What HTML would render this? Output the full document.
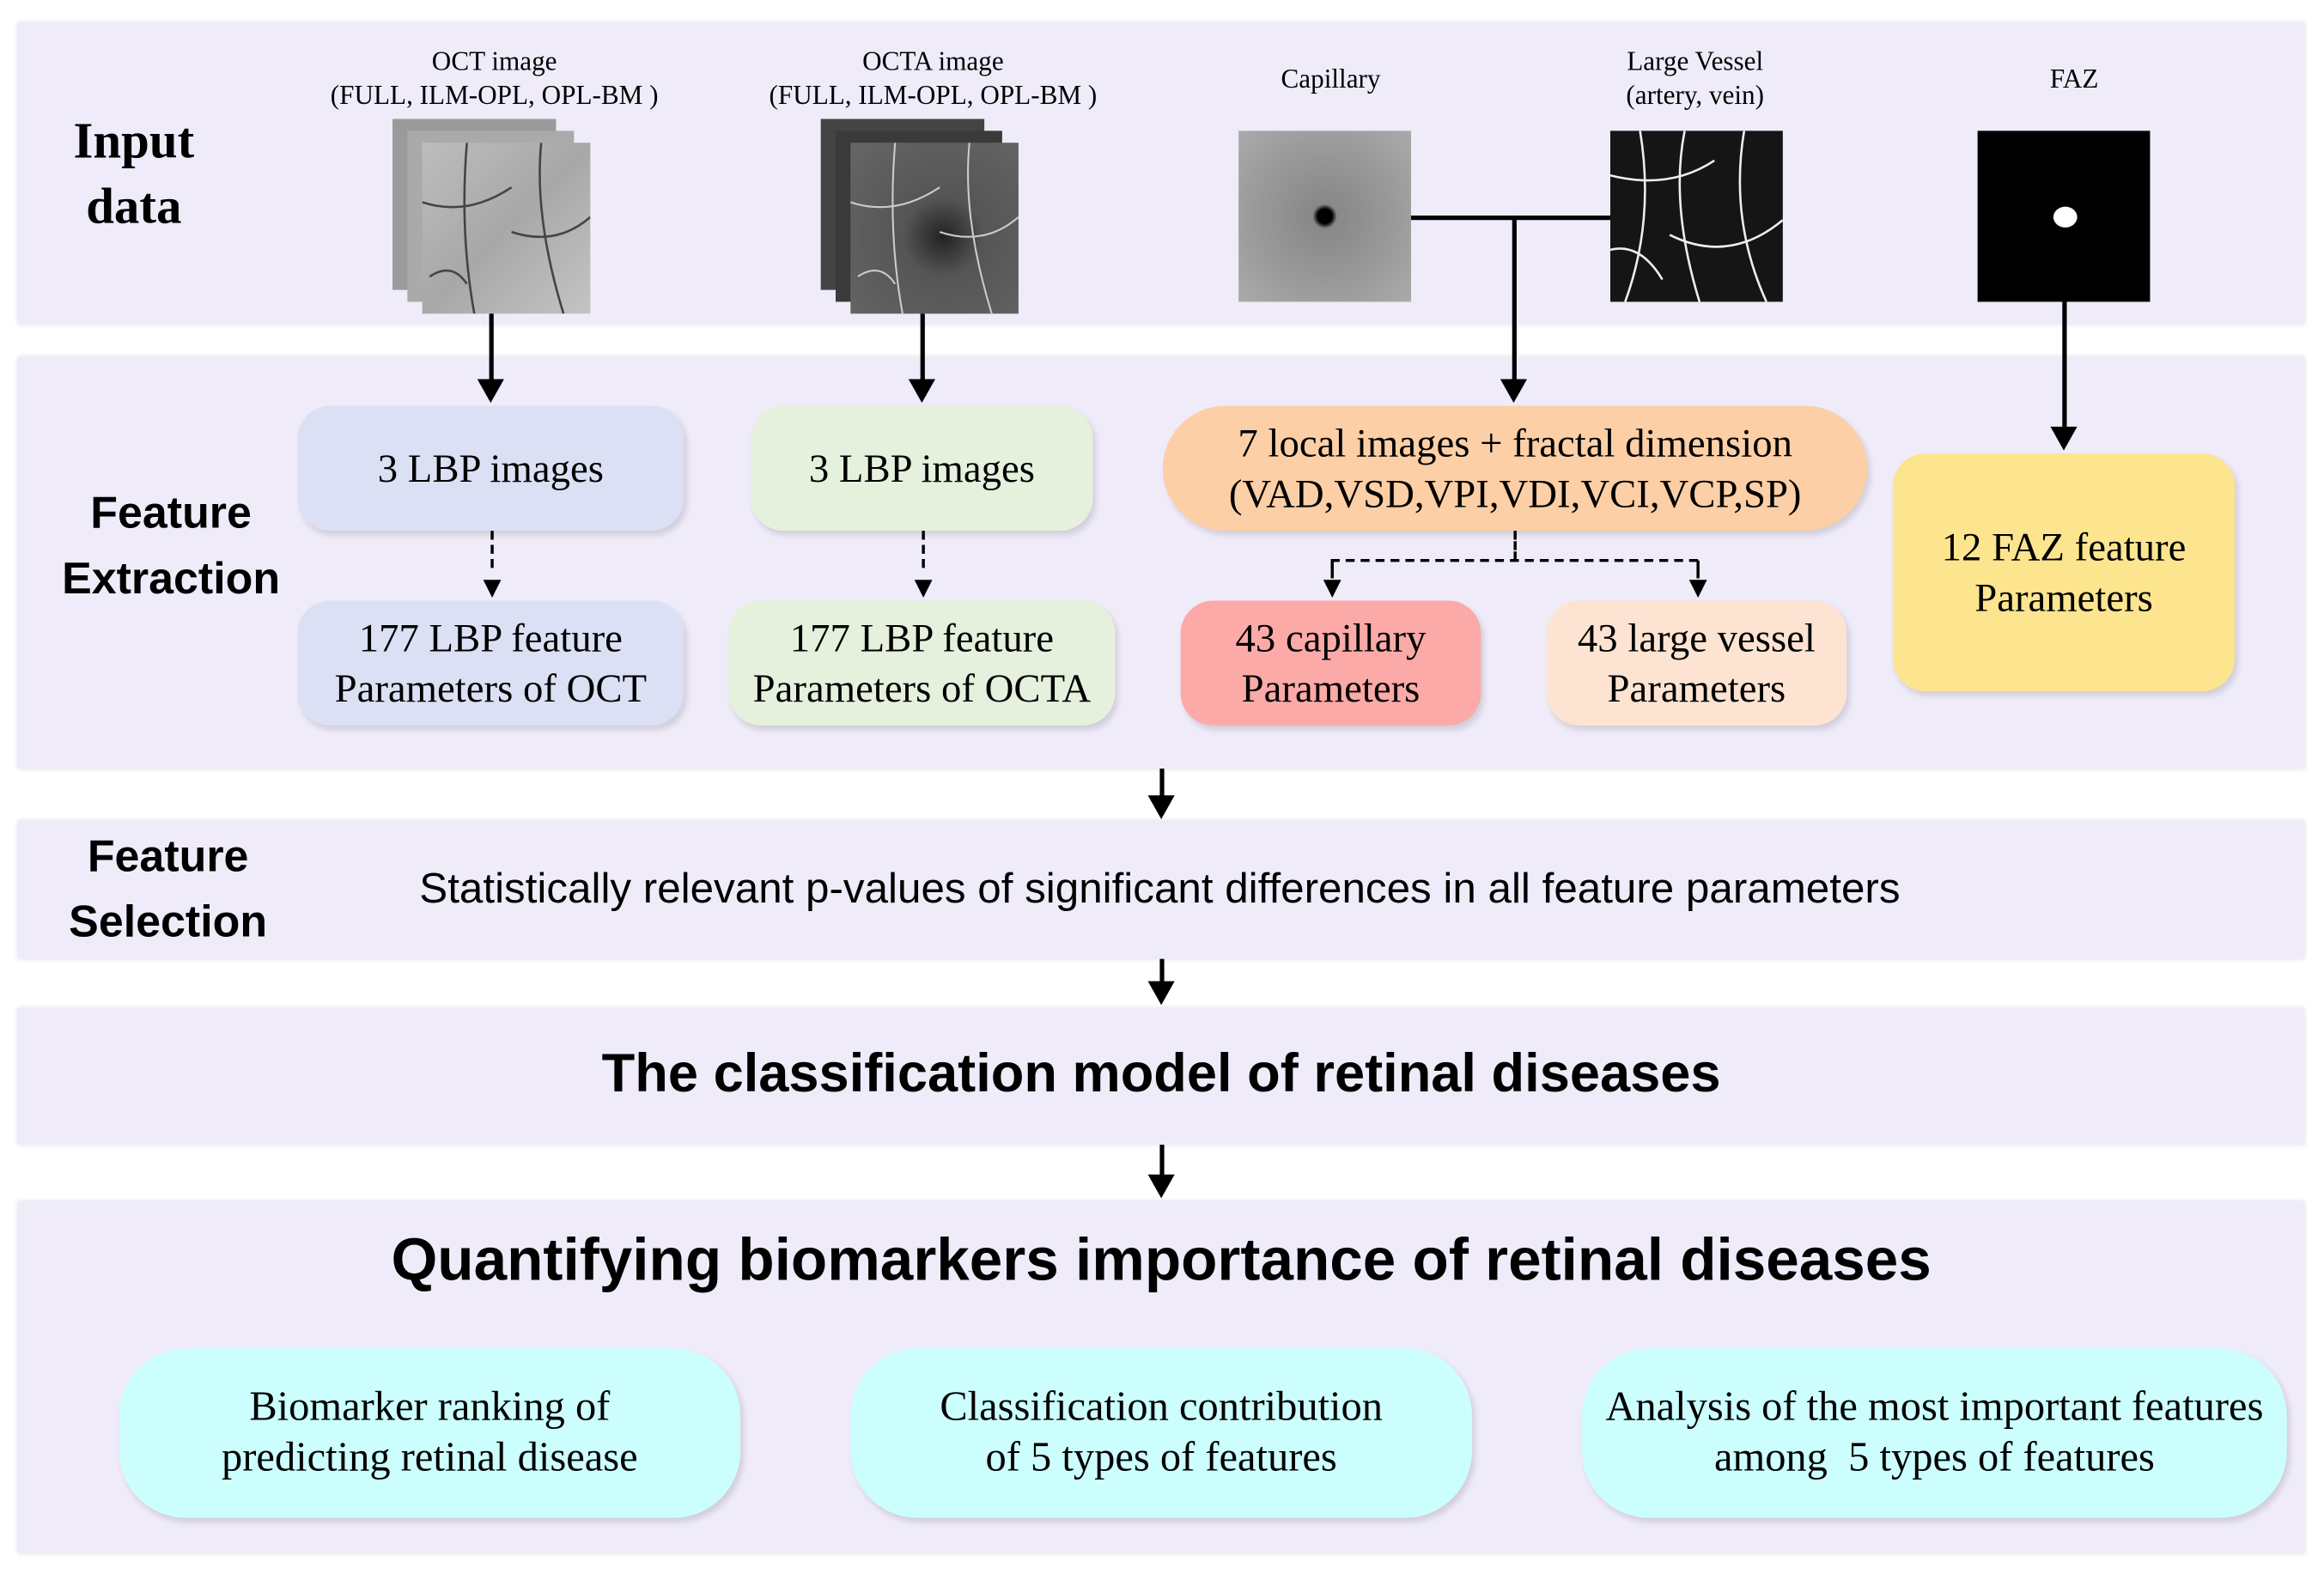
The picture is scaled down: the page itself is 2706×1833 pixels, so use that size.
<!DOCTYPE html>
<html><head><meta charset="utf-8"><style>
body{margin:0;width:2706px;height:1833px;background:#fff;overflow:hidden}
#w{position:absolute;left:0;top:0;width:1563px;height:1059px;transform:scale(1.7313);transform-origin:0 0;font-family:"Liberation Serif",serif}
.p{position:absolute;left:12px;width:1538px;background:#efebf9;box-shadow:0 0 3px #ddd}
.a{position:absolute;}
.b{position:absolute;display:flex;align-items:center;justify-content:center;text-align:center;border-radius:22px;font-size:27px;line-height:34px;box-shadow:2px 3px 4px rgba(0,0,0,.12)}
.h{position:absolute;font-family:"Liberation Sans",sans-serif;font-weight:bold;font-size:30px;line-height:44px;text-align:center}
.t{position:absolute;font-size:18px;text-align:center;line-height:23px}
.v{position:absolute;background:#000;width:3px}
.ar{position:absolute;width:0;height:0;border-left:9px solid transparent;border-right:9px solid transparent;border-top:16px solid #000}
.sa{position:absolute;width:0;height:0;border-left:6px solid transparent;border-right:6px solid transparent;border-top:12px solid #000}
.d{position:absolute;border-left:2px dashed #000;width:0}
</style></head><body><div id="w">
<div class="p" style="top:15px;height:203px"></div>
<div class="p" style="top:240px;height:277px"></div>
<div class="p" style="top:552px;height:93px"></div>
<div class="p" style="top:678px;height:92px"></div>
<div class="p" style="top:808px;height:237px"></div>

<div class="h" style="left:30px;top:74px;width:120px;font-family:'Liberation Serif',serif;font-size:34px">Input<br>data</div>
<div class="t" style="left:200px;top:30px;width:265px">OCT image<br>(FULL, ILM-OPL, OPL-BM )</div>
<div class="t" style="left:495px;top:30px;width:265px">OCTA image<br>(FULL, ILM-OPL, OPL-BM )</div>
<div class="t" style="left:830px;top:42px;width:130px">Capillary</div>
<div class="t" style="left:1075px;top:30px;width:130px">Large Vessel<br>(artery, vein)</div>
<div class="t" style="left:1340px;top:42px;width:110px">FAZ</div>

<div class="a" style="left:264px;top:80px;width:110px;height:115px;background:#9a9a9a"></div>
<div class="a" style="left:274px;top:88px;width:112px;height:115px;background:#aaa"></div>
<div class="a" style="left:284px;top:96px;width:113px;height:115px;background:linear-gradient(135deg,#bdbdbd,#a8a8a8 50%,#c4c4c4)"></div>
<svg class="a" style="left:284px;top:96px" width="113" height="115"><g stroke="#444" stroke-width="1.5" fill="none"><path d="M30 0 Q25 60 35 115"/><path d="M80 0 Q75 50 95 115"/><path d="M0 40 Q30 50 60 30"/><path d="M60 60 Q90 70 113 50"/><path d="M5 90 Q20 80 30 95"/></g></svg>
<div class="a" style="left:552px;top:80px;width:110px;height:115px;background:#444"></div>
<div class="a" style="left:562px;top:88px;width:112px;height:115px;background:#3a3a3a"></div>
<div class="a" style="left:572px;top:96px;width:113px;height:115px;background:radial-gradient(circle at 55% 55%,#222,#555 30%,#666)"></div>
<svg class="a" style="left:572px;top:96px" width="113" height="115"><g stroke="#ccc" stroke-width="1.2" fill="none"><path d="M30 0 Q25 60 35 115"/><path d="M80 0 Q75 50 95 115"/><path d="M0 40 Q30 50 60 30"/><path d="M60 60 Q90 70 113 50"/><path d="M5 90 Q20 80 30 95"/></g></svg>
<div class="a" style="left:833px;top:88px;width:116px;height:115px;background:radial-gradient(circle at 50% 50%,#000 6%,#888 10%,#aaa)"></div>
<div class="a" style="left:1083px;top:88px;width:116px;height:115px;background:#151515"></div>
<svg class="a" style="left:1083px;top:88px" width="116" height="115"><g stroke="#eee" stroke-width="1.5" fill="none"><path d="M20 0 Q30 60 10 115"/><path d="M50 0 Q40 50 60 115"/><path d="M90 0 Q80 60 105 115"/><path d="M0 30 Q40 40 70 20"/><path d="M40 70 Q80 90 116 60"/><path d="M0 80 Q20 75 35 100"/></g></svg>
<div class="a" style="left:1330px;top:88px;width:116px;height:115px;background:#000"></div>
<div class="a" style="left:1381px;top:139px;width:16px;height:14px;border-radius:50%;background:#fff"></div>

<div class="v" style="left:329px;top:211px;height:45px"></div><div class="ar" style="left:321px;top:255px"></div>
<div class="v" style="left:619px;top:211px;height:45px"></div><div class="ar" style="left:611px;top:255px"></div>
<div class="a" style="left:949px;top:145px;width:134px;height:3px;background:#000"></div>
<div class="v" style="left:1017px;top:145px;height:110px"></div><div class="ar" style="left:1009px;top:255px"></div>
<div class="v" style="left:1387px;top:203px;height:85px"></div><div class="ar" style="left:1379px;top:287px"></div>

<div class="h" style="left:30px;top:324px;width:170px">Feature<br>Extraction</div>
<div class="b" style="left:200px;top:273px;width:260px;height:84px;background:#dbe0f4">3 LBP images</div>
<div class="b" style="left:505px;top:273px;width:230px;height:84px;background:#e5f1dd">3 LBP images</div>
<div class="b" style="left:782px;top:273px;width:474px;height:84px;background:#fccfa6;border-radius:42px">7 local images + fractal dimension<br>(VAD,VSD,VPI,VDI,VCI,VCP,SP)</div>
<div class="b" style="left:1273px;top:305px;width:230px;height:160px;background:#fde58f">12 FAZ feature<br>Parameters</div>
<div class="d" style="left:330px;top:357px;height:25px"></div><div class="sa" style="left:325px;top:390px"></div>
<div class="d" style="left:620px;top:357px;height:25px"></div><div class="sa" style="left:615px;top:390px"></div>
<div class="d" style="left:1018px;top:357px;height:20px"></div>
<div class="a" style="left:895px;top:376px;width:247px;border-top:2px dashed #000"></div>
<div class="d" style="left:895px;top:377px;height:12px"></div><div class="sa" style="left:890px;top:390px"></div>
<div class="d" style="left:1141px;top:377px;height:12px"></div><div class="sa" style="left:1136px;top:390px"></div>
<div class="b" style="left:200px;top:404px;width:260px;height:84px;background:#dbe0f4">177 LBP feature<br>Parameters of OCT</div>
<div class="b" style="left:490px;top:404px;width:260px;height:84px;background:#e5f1dd">177 LBP feature<br>Parameters of OCTA</div>
<div class="b" style="left:794px;top:404px;width:202px;height:84px;background:#fbaaa8">43 capillary<br>Parameters</div>
<div class="b" style="left:1040px;top:404px;width:202px;height:84px;background:#fde4d2">43 large vessel<br>Parameters</div>

<div class="v" style="left:780px;top:517px;height:20px"></div><div class="ar" style="left:772px;top:535px"></div>
<div class="h" style="left:28px;top:555px;width:170px">Feature<br>Selection</div>
<div class="a" style="left:150px;top:582px;width:1260px;text-align:center;font-family:'Liberation Sans',sans-serif;font-size:28.5px">Statistically relevant p-values of significant differences in all feature parameters</div>
<div class="v" style="left:780px;top:645px;height:16px"></div><div class="ar" style="left:772px;top:660px"></div>
<div class="a" style="left:12px;top:701px;width:1538px;text-align:center;font-family:'Liberation Sans',sans-serif;font-weight:bold;font-size:36.5px">The classification model of retinal diseases</div>
<div class="v" style="left:780px;top:770px;height:22px"></div><div class="ar" style="left:772px;top:790px"></div>
<div class="a" style="left:12px;top:826px;width:1538px;text-align:center;font-family:'Liberation Sans',sans-serif;font-weight:bold;font-size:40px">Quantifying biomarkers importance of retinal diseases</div>
<div class="b" style="left:80px;top:907px;width:418px;height:114px;background:#ccfefe;border-radius:45px;font-size:28px">Biomarker ranking of<br>predicting retinal disease</div>
<div class="b" style="left:572px;top:907px;width:418px;height:114px;background:#ccfefe;border-radius:45px;font-size:28px">Classification contribution<br>of 5 types of features</div>
<div class="b" style="left:1064px;top:907px;width:474px;height:114px;background:#ccfefe;border-radius:45px;font-size:28px">Analysis of the most important features<br>among&nbsp; 5 types of features</div>
</div></body></html>
